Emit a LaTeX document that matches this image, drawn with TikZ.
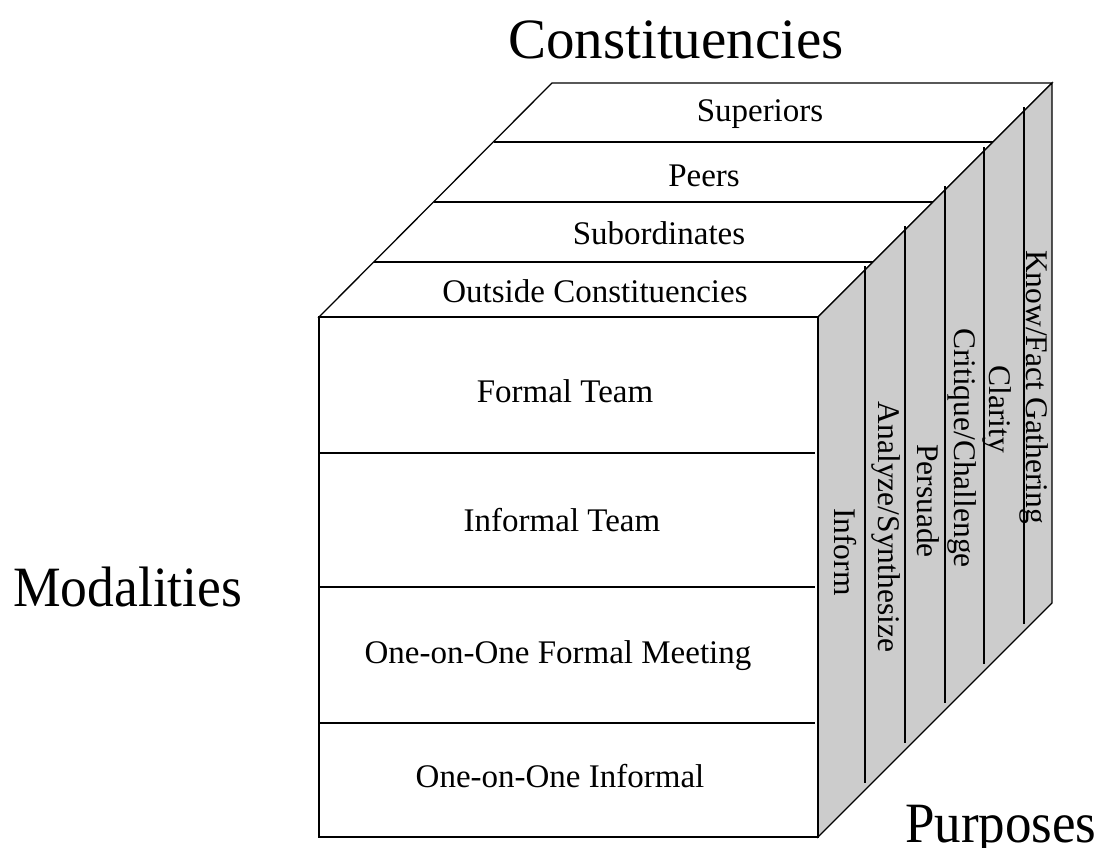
\documentclass[tikz,border=0pt]{standalone}
\usepackage{fontspec}
\setmainfont{Liberation Serif}
\definecolor{sidegray}{RGB}{204,204,204}
\begin{document}
\begin{tikzpicture}[x=1pt,y=-1pt,
  edge/.style={line width=1.3pt,line join=miter},
  cell/.style={inner sep=0pt,anchor=base,font=\fontsize{33}{40}\selectfont},
  sidetext/.style={inner sep=0pt,anchor=base,rotate=-90,font=\fontsize{31.5}{38}\selectfont},
  axislabel/.style={inner sep=0pt,font=\fontsize{57}{68}\selectfont}]
\useasboundingbox (0,0) rectangle (1104,848);

% corners of the cube
\coordinate (ftl) at (319,317);
\coordinate (ftr) at (818,317);
\coordinate (fbl) at (319,837);
\coordinate (fbr) at (818,837);
\coordinate (btl) at (552,83);
\coordinate (btr) at (1052,83);
\coordinate (bbr) at (1052,603);

% top face: constituencies
\draw[edge,fill=white] (ftl) -- (btl) -- (btr) -- (ftr) -- cycle;
\foreach \y in {142,202,262}
  \draw[edge] ({319+317-\y},\y) -- ({818+317-\y},\y);

% right face: purposes
\draw[edge,fill=sidegray] (ftr) -- (btr) -- (bbr) -- (fbr) -- cycle;
\foreach \x in {865,905,945,984,1024}
  \draw[edge] (\x,{317-(\x-818)-4}) -- (\x,{837-(\x-818)-7});

% front face: modalities
\draw[edge,fill=white] (ftl) rectangle (fbr);
\foreach \y in {453,587,723}
  \draw[edge] (319,\y) -- (815,\y);

% top face labels
\node[cell] (sup) at (760,122) {Superiors};
\node[cell] (peer) at (704,187) {Peers};
\node[cell] (sub) at (659,244) {Subordinates};
\node[cell] (out) at (595,302) {Outside Constituencies};

% front face labels
\node[cell] (ft) at (565,402) {Formal Team};
\node[cell] (it) at (562,531) {Informal Team};
\node[cell] (oofm) at (558,663) {One-on-One Formal Meeting};
\node[cell] (ooi) at (560,787) {One-on-One Informal};

% right face labels
\node[sidetext] (inf) at (834,552) {Inform};
\node[sidetext] (ana) at (878,527) {Analyze/Synthesize};
\node[sidetext] (per) at (917,501) {Persuade};
\node[sidetext] (cri) at (954,448) {Critique/Challenge};
\node[sidetext] (cla) at (989,409) {Clarity};
\node[sidetext] (kno) at (1026,387) {Know/Fact Gathering};

% axis titles
\node[axislabel,anchor=base] (cons) at (676,59) {Constituencies};
\node[axislabel,anchor=base west,xscale=0.94] (moda) at (13,606) {Modalities};
\node[axislabel,anchor=base west,xscale=0.93] (purp) at (905,842) {Purposes};
\end{tikzpicture}
\end{document}
